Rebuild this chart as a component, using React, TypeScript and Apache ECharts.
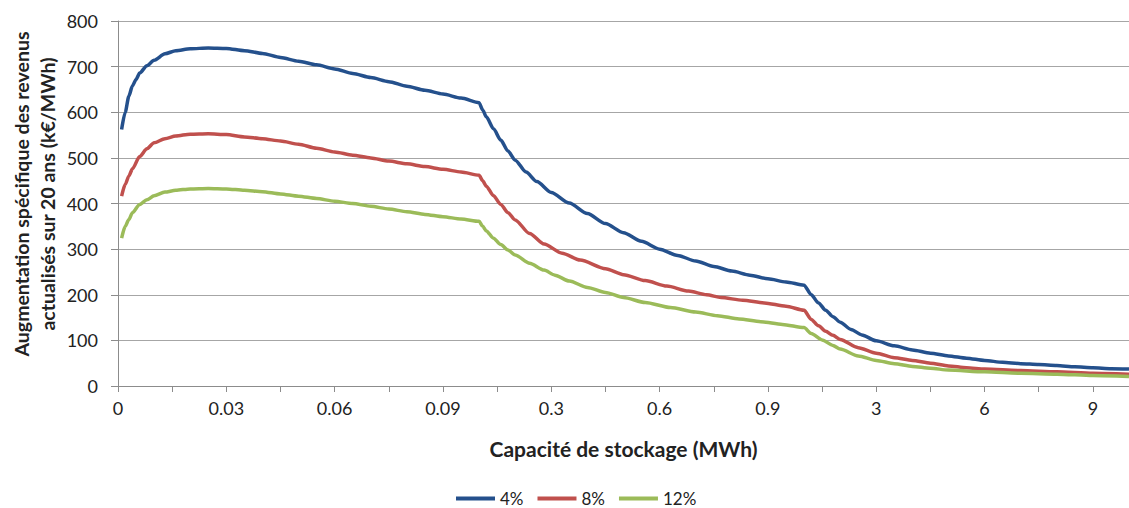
import React, { useEffect, useRef } from "react";
import * as echarts from "echarts";

// x-axis segments (equal-width category blocks)
const SEGMENTS = [
  { from: 0, count: 100, step: 0.001, digits: 3 },
  { from: 0.1, count: 90, step: 0.01, digits: 2 },
  { from: 1, count: 90, step: 0.1, digits: 1 },
];

const TICK_LABELS = ["0", "0.03", "0.06", "0.09", "0.3", "0.6", "0.9", "3", "6", "9"];

const SERIES_NAMES = ["4%", "8%", "12%"];
const COLORS = ["#24508C", "#C0504D", "#9BBB59"];

const X_4 = [
  0.001, 0.002, 0.003, 0.004, 0.005, 0.006, 0.008, 0.01, 0.013, 0.016, 0.02, 0.025, 0.03,
  0.035, 0.04, 0.045, 0.05, 0.055, 0.06, 0.065, 0.07, 0.075, 0.08, 0.085, 0.09, 0.095, 0.1,
  0.11, 0.12, 0.14, 0.16, 0.18, 0.2, 0.23, 0.26, 0.3, 0.35, 0.4, 0.45, 0.5, 0.55, 0.6, 0.65,
  0.7, 0.75, 0.8, 0.85, 0.9, 0.95, 1,
  1.2, 1.4, 1.6, 1.8, 2, 2.3, 2.6, 3, 3.5, 4, 4.5, 5, 5.5, 6, 6.5, 7, 7.5, 8, 8.5, 9, 9.5, 10,
];
const Y_4 = [
  562, 600, 635, 658, 672, 686, 702, 714, 728, 735, 739, 741, 740,
  735, 729, 720, 712, 704, 695, 685, 676, 667, 657, 648, 640, 631, 621,
  605, 590, 564, 539, 515, 495, 469, 448, 424, 401, 378, 356, 336, 317, 300, 286,
  274, 262, 252, 243, 235, 228, 221,
  200, 182, 166, 152, 140, 124, 112, 99, 88, 79, 72, 66, 61, 56, 52, 49, 47, 45, 42, 40, 38, 37,
];

const X_8 = [
  0.001, 0.002, 0.003, 0.004, 0.006, 0.008, 0.01, 0.013, 0.016, 0.02, 0.025, 0.03,
  0.035, 0.04, 0.045, 0.05, 0.055, 0.06, 0.065, 0.07, 0.075, 0.08, 0.085, 0.09, 0.095, 0.1,
  0.11, 0.12, 0.14, 0.16, 0.18, 0.2, 0.24, 0.28, 0.33, 0.38, 0.45, 0.5, 0.56, 0.62, 0.68,
  0.73, 0.77, 0.83, 0.89, 0.95, 1,
  1.2, 1.4, 1.6, 1.8, 2, 2.5, 3, 3.5, 4, 4.5, 5, 5.5, 6, 7, 8, 9, 10,
];
const Y_8 = [
  416, 442, 460, 476, 503, 520, 533, 542, 548, 552, 553, 551,
  546, 542, 537, 530, 521, 513, 506, 500, 493, 487, 481, 475, 469, 462,
  450, 438, 417, 398, 380, 364, 334, 311, 291, 276, 257, 244, 231, 219, 208,
  200, 194, 188, 182, 175, 166,
  146, 132, 120, 111, 102, 84, 72, 62, 56, 50, 44, 40, 37, 34, 31, 28, 26,
];

const X_12 = [
  0.001, 0.002, 0.003, 0.004, 0.006, 0.008, 0.01, 0.013, 0.016, 0.02, 0.025, 0.03,
  0.035, 0.04, 0.045, 0.05, 0.055, 0.06, 0.065, 0.07, 0.075, 0.08, 0.085, 0.09, 0.095, 0.1,
  0.11, 0.12, 0.14, 0.16, 0.18, 0.2, 0.24, 0.28, 0.31, 0.35, 0.4, 0.45, 0.5, 0.56, 0.63,
  0.7, 0.76, 0.82, 0.88, 0.94, 1,
  1.2, 1.5, 1.8, 2, 2.5, 3, 3.5, 4, 4.5, 5, 6, 7, 8, 9, 10,
];
const Y_12 = [
  324, 350, 365, 380, 398, 408, 417, 425, 429, 432, 433, 432,
  429, 426, 421, 416, 411, 405, 400, 394, 388, 382, 376, 371, 366, 361,
  350, 340, 324, 310, 298, 287, 269, 254, 243, 230, 216, 205, 194, 183, 172,
  162, 154, 147, 141, 135, 128,
  115, 101, 89, 81, 66, 56, 49, 43, 39, 35, 31, 28, 26, 23, 21,
];

function buildCategories(): string[] {
  const cats: string[] = [];
  SEGMENTS.forEach((s, si) => {
    const start = si === 0 ? 0 : 1;
    for (let i = start; i <= s.count; i++) {
      cats.push(String(Number((s.from + i * s.step).toFixed(s.digits))));
    }
  });
  return cats;
}

const CATEGORIES = buildCategories();
const CAT_INDEX: Record<string, number> = {};
CATEGORIES.forEach((c, i) => (CAT_INDEX[c] = i));

function toData(xs: number[], ys: number[]) {
  return xs.map((x, i) => [CAT_INDEX[String(x)], ys[i]]);
}

const FONT = "Lato";
const AXIS_COLOR = "#8c8c8c";

export default function App() {
  const ref = useRef<HTMLDivElement>(null);
  useEffect(() => {
    if (!ref.current) return;
    const chart = echarts.init(ref.current, undefined, { renderer: "svg" });
    const datasets = [toData(X_4, Y_4), toData(X_8, Y_8), toData(X_12, Y_12)];
    chart.setOption({
      animation: false,
      backgroundColor: "#ffffff",
      grid: { left: 118, top: 21, right: -2, bottom: 122, containLabel: false },
      legend: {
        data: SERIES_NAMES,
        left: 456,
        top: 490,
        padding: 0,
        icon: "rect",
        itemWidth: 39,
        itemHeight: 4,
        itemGap: 14,
        textStyle: { fontFamily: FONT, fontSize: 17, color: "#222" },
      },
      xAxis: {
        type: "category",
        data: CATEGORIES,
        boundaryGap: false,
        axisLine: { lineStyle: { color: AXIS_COLOR, width: 1 } },
        axisTick: { show: true, interval: 14, length: 6, lineStyle: { color: AXIS_COLOR } },
        axisLabel: {
          interval: (_i: number, v: string) => TICK_LABELS.includes(v),
          margin: 13,
          fontFamily: FONT,
          fontSize: 18,
          color: "#222",
        },
        splitLine: { show: false },
        name: "Capacité de stockage (MWh)",
        nameLocation: "middle",
        nameGap: 52,
        nameTextStyle: { fontFamily: FONT, fontSize: 21, fontWeight: "bold", color: "#222" },
      },
      yAxis: {
        type: "value",
        min: 0,
        max: 800,
        interval: 100,
        axisLine: { show: true, lineStyle: { color: AXIS_COLOR } },
        axisTick: { show: true, length: 7, lineStyle: { color: AXIS_COLOR } },
        splitLine: { lineStyle: { color: "#a6a6a6" } },
        axisLabel: { margin: 20, fontFamily: FONT, fontSize: 18, color: "#222" },
      },
      graphic: [
        {
          type: "text",
          x: 34,
          y: 194,
          rotation: Math.PI / 2,
          style: {
            text: "Augmentation spécifique des revenus\nactualisés sur 20 ans (k€/MWh)",
            font: `bold 19.5px ${FONT}`,
            fill: "#222",
            align: "center",
            verticalAlign: "middle",
            lineHeight: 26,
          },
        },
      ],
      series: SERIES_NAMES.map((name, i) => ({
        name,
        type: "line",
        data: datasets[i],
        symbol: "none",
        smooth: 0.25,
        smoothMonotone: "x",
        lineStyle: { color: COLORS[i], width: 3.5 },
        itemStyle: { color: COLORS[i] },
      })),
    });
    return () => chart.dispose();
  }, []);
  return (
    <div
      ref={ref}
      style={{ position: "absolute", left: 0, top: 0, width: 1129, height: 508 }}
    />
  );
}
